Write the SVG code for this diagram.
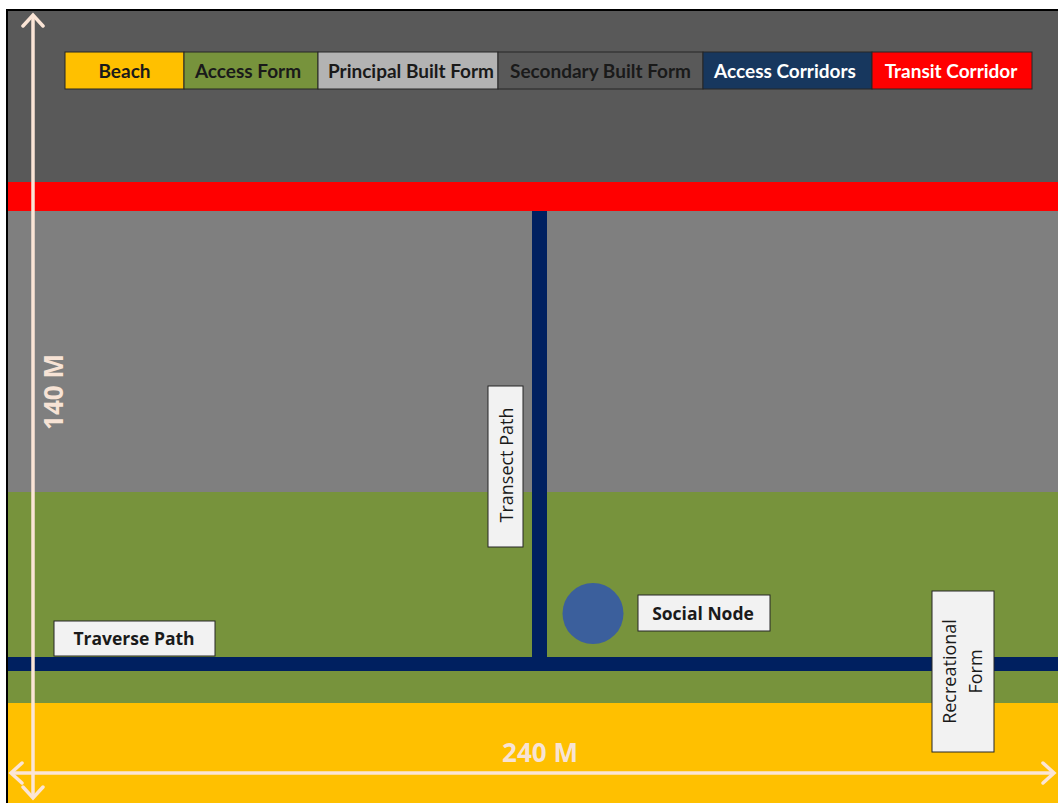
<svg xmlns="http://www.w3.org/2000/svg" width="1058" height="803" viewBox="0 0 1058 803">
<style>
.lg{font-family:Lato,"Open Sans",sans-serif;font-weight:bold;font-size:19px;text-anchor:middle;dominant-baseline:central}
.lbl{fill:#F2F2F2;stroke:#262626;stroke-width:1}
.bt{font-family:"Open Sans",Lato,sans-serif;font-weight:bold;font-size:17.5px;fill:#1a1a1a;text-anchor:middle;dominant-baseline:central}
.nt{font-family:"Open Sans",Lato,sans-serif;font-size:18px;fill:#1a1a1a;text-anchor:middle;dominant-baseline:central}
.dim{font-family:"Open Sans",Lato,sans-serif;font-weight:bold;font-size:26px;fill:#F7E3D5;text-anchor:middle;dominant-baseline:central}
.ax{stroke:#FBE5D6;stroke-width:3.5;fill:none}
</style>
<defs>
<marker id="ah" markerUnits="userSpaceOnUse" markerWidth="20" markerHeight="24" viewBox="0 0 20 24" refX="14" refY="12" orient="auto-start-reverse">
<path d="M3,2 L14,12 L3,22" fill="none" stroke="#FBE5D6" stroke-width="3.5" stroke-linecap="round"/>
</marker>
</defs>
<rect x="0" y="0" width="1058" height="803" fill="#ffffff"/>
<g id="zones">
<rect x="7" y="10" width="1060" height="800" fill="#595959" stroke="#000" stroke-width="2"/>
<rect x="8" y="182" width="1050" height="29" fill="#FF0000"/>
<rect x="8" y="211" width="1050" height="281" fill="#7F7F7F"/>
<rect x="8" y="492" width="1050" height="211" fill="#77933C"/>
<rect x="8" y="703" width="1050" height="100" fill="#FFC000"/>
</g>
<g id="legend">
<rect x="65" y="52" width="119" height="37" fill="#FFC000" stroke="#262626" stroke-width="1"/>
<text class="lg" x="124.5" y="70.5" fill="#1a1a1a">Beach</text>
<rect x="184" y="52" width="134" height="37" fill="#77933C" stroke="#262626" stroke-width="1"/>
<text class="lg" x="248" y="70.5" fill="#1a1a1a">Access Form</text>
<rect x="318" y="52" width="180" height="37" fill="#B3B3B3" stroke="#262626" stroke-width="1"/>
<text class="lg" x="411" y="70.5" fill="#1a1a1a">Principal Built Form</text>
<rect x="498" y="52" width="205" height="37" fill="#595959" stroke="#262626" stroke-width="1"/>
<text class="lg" x="600.5" y="70.5" fill="#1a1a1a">Secondary Built Form</text>
<rect x="703" y="52" width="169" height="37" fill="#17375E" stroke="#262626" stroke-width="1"/>
<text class="lg" x="785" y="70.5" fill="#ffffff">Access Corridors</text>
<rect x="872" y="52" width="160" height="37" fill="#FF0000" stroke="#262626" stroke-width="1"/>
<text class="lg" x="951" y="70.5" fill="#ffffff">Transit Corridor</text>
</g>
<g id="connectors">
<rect id="transect-corridor" x="532" y="211" width="15" height="448" fill="#002060"/>
<rect id="traverse-corridor" x="8" y="657" width="1050" height="14" fill="#002060"/>
</g>
<g id="social-node">
<circle cx="593" cy="613.5" r="30.5" fill="#3B5F9C"/>
<rect class="lbl" x="638" y="595" width="132" height="36"/>
<text class="bt" x="703" y="612.5">Social Node</text>
</g>
<g id="traverse-path">
<rect class="lbl" x="54" y="621" width="161" height="35"/>
<text class="bt" x="134" y="637.5">Traverse Path</text>
</g>
<g id="transect-path">
<rect class="lbl" x="488" y="386" width="35" height="161"/>
<text class="nt" transform="translate(505.5,465) rotate(-90)">Transect Path</text>
</g>
<g id="recreational-form">
<rect class="lbl" x="932" y="591" width="62" height="161"/>
<text class="nt" transform="translate(949,671.5) rotate(-90)">Recreational</text>
<text class="nt" transform="translate(975,671.5) rotate(-90)">Form</text>
</g>
<g id="dimensions">
<line class="ax" x1="33" y1="15" x2="33" y2="798" marker-start="url(#ah)" marker-end="url(#ah)"/>
<line class="ax" x1="11" y1="773" x2="1054" y2="773" marker-start="url(#ah)" marker-end="url(#ah)"/>
<text class="dim" transform="translate(53,392) rotate(-90)">140 M</text>
<text class="dim" x="540" y="752">240 M</text>
</g>
</svg>
